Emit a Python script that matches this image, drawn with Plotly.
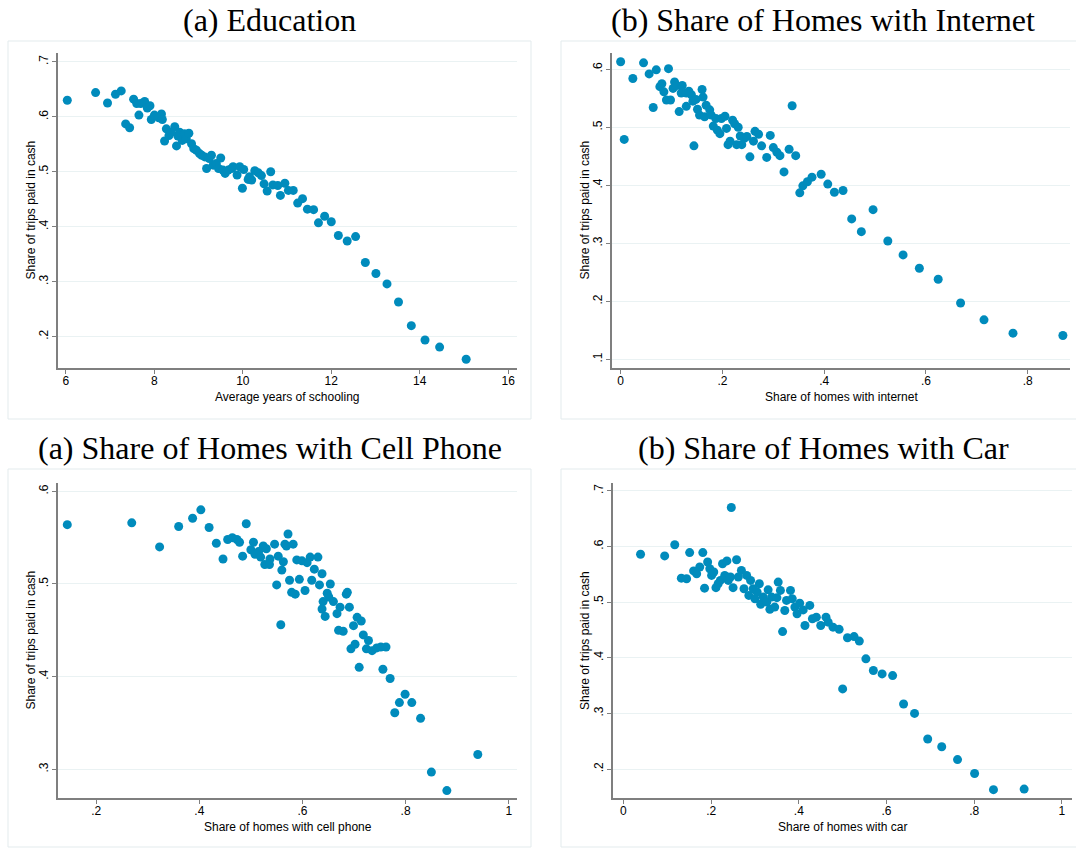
import plotly.graph_objects as go

# ---------------- data ----------------
edu_x = [6.03, 6.67, 6.94, 7.12, 7.25, 7.35, 7.44, 7.53, 7.60, 7.65, 7.69, 7.78, 7.84, 7.90, 7.93, 8.00,
         8.10, 8.16, 8.18, 8.23, 8.27, 8.33, 8.38, 8.46, 8.50, 8.53, 8.57, 8.63, 8.68, 8.72, 8.78, 8.84,
         8.89, 8.95, 9.02, 9.07, 9.14, 9.18, 9.24, 9.29, 9.33, 9.40, 9.45, 9.50, 9.55, 9.60, 9.67, 9.75,
         9.78, 9.87, 9.93, 9.99, 10.02, 10.12, 10.15, 10.20, 10.27, 10.35, 10.42, 10.48, 10.55, 10.63,
         10.68, 10.79, 10.85, 10.95, 11.03, 11.14, 11.24, 11.35, 11.46, 11.60, 11.71, 11.85, 12.00,
         12.16, 12.36, 12.55, 12.77, 13.01, 13.26, 13.52, 13.81, 14.12, 14.45, 15.05]
edu_y = [.630, .644, .625, .641, .647, .587, .580, .632, .624, .603, .624, .628, .616, .620, .595, .603,
         .598, .605, .595, .556, .578, .566, .572, .582, .547, .565, .572, .557, .569, .560, .570, .551,
         .542, .539, .533, .530, .527, .506, .524, .530, .512, .515, .506, .525, .503, .497, .503, .506,
         .509, .494, .509, .470, .504, .486, .491, .485, .502, .498, .493, .478, .465, .500,
         .476, .475, .457, .479, .466, .466, .443, .451, .432, .431, .407, .419, .409,
         .384, .374, .382, .335, .315, .296, .263, .220, .194, .181, .159]

net_x = [0.000, 0.007, 0.024, 0.045, 0.056, 0.064, 0.070, 0.077, 0.081, 0.085, 0.090, 0.094, 0.098, 0.103,
         0.106, 0.110, 0.115, 0.119, 0.121, 0.129, 0.129, 0.134, 0.139, 0.142, 0.144, 0.148, 0.151, 0.155,
         0.160, 0.162, 0.165, 0.168, 0.175, 0.178, 0.182, 0.187, 0.190, 0.195, 0.198, 0.205, 0.208, 0.211,
         0.215, 0.220, 0.224, 0.228, 0.231, 0.235, 0.238, 0.243, 0.248, 0.254, 0.261, 0.264, 0.271, 0.277,
         0.287, 0.294, 0.300, 0.307, 0.313, 0.321, 0.331, 0.337, 0.344, 0.352, 0.358, 0.367, 0.376, 0.394,
         0.407, 0.420, 0.437, 0.454, 0.473, 0.496, 0.525, 0.555, 0.587, 0.624, 0.668, 0.714, 0.771, 0.869]
net_y = [.613, .479, .584, .611, .592, .534, .599, .570, .575, .561, .547, .601, .547, .567,
         .578, .572, .527, .559, .572, .559, .536, .562, .556, .545, .468, .548, .531, .521,
         .565, .552, .518, .538, .530, .521, .502, .515, .495, .489, .515, .519, .498, .470,
         .476, .512, .506, .470, .500, .485, .470, .481, .484, .449, .476, .493, .488, .468,
         .448, .486, .465, .457, .451, .423, .462, .537, .451, .387, .399, .406, .414, .419,
         .402, .388, .391, .342, .320, .358, .304, .280, .257, .238, .197, .168, .145, .141]

cell_x = [.144, .269, .323, .360, .387, .403, .419, .433, .446, .455, .464, .473, .478, .484, .491, .500,
          .505, .508, .515, .519, .524, .527, .530, .536, .537, .546, .550, .553, .558, .560, .563, .566,
          .569, .572, .575, .579, .582, .586, .589, .594, .599, .605, .609, .615, .618, .623, .630, .633,
          .638, .638, .640, .644, .648, .651, .654, .660, .667, .670, .673, .679, .685, .687, .691, .694,
          .699, .702, .706, .710, .714, .718, .724, .728, .735, .744, .752, .756, .762, .770, .779, .788,
          .799, .812, .829, .850, .880, .940]
cell_y = [.564, .566, .540, .562, .571, .580, .561, .544, .527, .548, .550, .548, .545, .530, .565, .537,
          .545, .532, .535, .529, .541, .521, .538, .521, .527, .543, .499, .530, .456, .515, .524, .543,
          .541, .554, .504, .491, .543, .489, .526, .505, .525, .493, .523, .529, .504, .516, .529, .499,
          .511, .473, .481, .465, .490, .486, .500, .481, .468, .450, .475, .449, .489, .491, .475, .430,
          .455, .435, .464, .410, .460, .445, .430, .439, .428, .431, .432, .408, .432, .398, .361, .372,
          .381, .372, .355, .297, .277, .316]

car_x = [.039, .094, .117, .132, .144, .151, .160, .167, .174, .181, .185, .192, .197, .201, .206, .211,
         .216, .221, .226, .231, .236, .239, .244, .246, .250, .258, .262, .269, .275, .281, .286, .290,
         .296, .300, .305, .310, .313, .319, .327, .330, .334, .338, .345, .350, .353, .358, .363, .368,
         .372, .381, .385, .391, .396, .402, .410, .414, .425, .431, .440, .450, .462, .467, .478, .492,
         .500, .511, .526, .538, .553, .570, .590, .614, .639, .664, .694, .726, .762, .801, .844, .914]
car_y = [.586, .583, .603, .543, .542, .589, .556, .551, .563, .589, .525, .572, .560, .548, .554, .526,
         .533, .539, .569, .548, .574, .539, .545, .670, .526, .576, .545, .557, .524, .548, .512, .539,
         .524, .506, .518, .533, .496, .509, .500, .522, .487, .509, .491, .508, .536, .521, .447, .485,
         .503, .521, .506, .491, .479, .498, .486, .458, .494, .470, .473, .458, .473, .464, .455, .451,
         .344, .436, .438, .430, .398, .377, .371, .368, .317, .300, .254, .240, .217, .192, .163, .164]

panel_titles = ["(a) Education", "(b) Share of Homes with Internet",
                "(a) Share of Homes with Cell Phone", "(b) Share of Homes with Car"]
x_titles = ["Average years of schooling", "Share of homes with internet",
            "Share of homes with cell phone", "Share of homes with car"]
y_title = "Share of trips paid in cash"

edu_xticks = [6, 8, 10, 12, 14, 16]
edu_xlabels = ["6", "8", "10", "12", "14", "16"]
edu_yticks = [.2, .3, .4, .5, .6, .7]
edu_ylabels = [".2", ".3", ".4", ".5", ".6", ".7"]
net_xticks = [0, .2, .4, .6, .8]
net_xlabels = ["0", ".2", ".4", ".6", ".8"]
net_yticks = [.1, .2, .3, .4, .5, .6]
net_ylabels = [".1", ".2", ".3", ".4", ".5", ".6"]
cell_xticks = [.2, .4, .6, .8, 1]
cell_xlabels = [".2", ".4", ".6", ".8", "1"]
cell_yticks = [.3, .4, .5, .6]
cell_ylabels = [".3", ".4", ".5", ".6"]
car_xticks = [0, .2, .4, .6, .8, 1]
car_xlabels = ["0", ".2", ".4", ".6", ".8", "1"]
car_yticks = [.2, .3, .4, .5, .6, .7]
car_ylabels = [".2", ".3", ".4", ".5", ".6", ".7"]

# ---------------- layout ----------------
W, H = 1076, 848
MARKER = "#008BBC"
AXIS = "#7f7f7f"
GRID = "#EAF2F3"
BOX = "#E3EBED"
SANS = "Liberation Sans, Arial, sans-serif"
SERIF = "Liberation Serif, Times New Roman, serif"


def px_x(p):
    return p / W


def px_y(p):
    return 1 - p / H


panels = [
    dict(x=edu_x, y=edu_y, xt=edu_xticks, xl=edu_xlabels, yt=edu_yticks, yl=edu_ylabels,
         xr=[5.82, 16.2], yr=[0.143, 0.716], dom=(58, 517, 53, 368), box=(8, 531, 41, 419), tc=(269.5, 20)),
    dict(x=net_x, y=net_y, xt=net_xticks, xl=net_xlabels, yt=net_yticks, yl=net_ylabels,
         xr=[-0.017, 0.883], yr=[0.085, 0.628], dom=(612, 1070, 53, 368), box=(561, 1085, 41, 419), tc=(823, 20)),
    dict(x=cell_x, y=cell_y, xt=cell_xticks, xl=cell_xlabels, yt=cell_yticks, yl=cell_ylabels,
         xr=[0.126, 1.016], yr=[0.269, 0.609], dom=(58, 517, 483, 798), box=(8, 531, 469, 847), tc=(269.5, 448)),
    dict(x=car_x, y=car_y, xt=car_xticks, xl=car_xlabels, yt=car_yticks, yl=car_ylabels,
         xr=[-0.025, 1.022], yr=[0.148, 0.714], dom=(612.5, 1071.5, 483, 798), box=(561, 1085, 469, 847), tc=(823, 448)),
]

fig = go.Figure()
layout = dict(width=W, height=H, margin=dict(l=0, r=0, t=0, b=0),
              paper_bgcolor="white", plot_bgcolor="white", showlegend=False,
              font=dict(family=SANS, size=12, color="#000000"))
shapes = []
annotations = []

tickfont = dict(family=SANS, size=12, color="#000000")

for i, p in enumerate(panels):
    n = "" if i == 0 else str(i + 1)
    fig.add_trace(go.Scatter(x=p["x"], y=p["y"], mode="markers", xaxis="x" + n, yaxis="y" + n,
                             marker=dict(color=MARKER, size=9, line=dict(width=0)),
                             hoverinfo="x+y"))
    x0, x1, y0, y1 = p["dom"]
    layout["xaxis" + n] = dict(domain=[px_x(x0), px_x(x1)], range=p["xr"], anchor="y" + n,
                               tickvals=p["xt"], ticktext=p["xl"], showgrid=False, zeroline=False,
                               showline=True, linecolor=AXIS, linewidth=1.5, ticks="outside",
                               ticklen=4, tickwidth=1, tickcolor=AXIS, tickfont=tickfont,
                               ticklabelstandoff=-3)
    layout["yaxis" + n] = dict(domain=[px_y(y1), px_y(y0)], range=p["yr"], anchor="x" + n,
                               tickvals=p["yt"], ticktext=p["yl"], showgrid=True, gridcolor=GRID,
                               gridwidth=1, zeroline=False, showline=True, linecolor=AXIS, linewidth=1.5,
                               ticks="outside", ticklen=4, tickwidth=1, tickcolor=AXIS, tickangle=-90,
                               tickfont=tickfont, ticklabelstandoff=-1)
    # axis titles
    annotations.append(dict(text=x_titles[i], xref="paper", yref="paper", x=px_x((x0 + x1) / 2),
                            y=px_y(y1 + 29), xanchor="center", yanchor="middle", showarrow=False,
                            font=dict(family=SANS, size=12, color="#000000")))
    annotations.append(dict(text=y_title, xref="paper", yref="paper", x=px_x(x0 - 28),
                            y=px_y((y0 + y1) / 2), xanchor="center", yanchor="middle", showarrow=False,
                            textangle=-90, font=dict(family=SANS, size=12, color="#000000")))
    bx0, bx1, by0, by1 = p["box"]
    shapes.append(dict(type="rect", xref="paper", yref="paper", x0=px_x(bx0), x1=px_x(bx1),
                       y0=px_y(by1), y1=px_y(by0), line=dict(color=BOX, width=1), layer="below"))
    cx, cy = p["tc"]
    annotations.append(dict(text=panel_titles[i], xref="paper", yref="paper", x=px_x(cx), y=px_y(cy),
                            xanchor="center", yanchor="middle", showarrow=False,
                            font=dict(family=SERIF, size=32, color="#000000")))

layout["shapes"] = shapes
layout["annotations"] = annotations
fig.update_layout(**layout)
fig.write_html("out.html", config={"displayModeBar": False},
               post_script="document.body.style.margin='0px';")
